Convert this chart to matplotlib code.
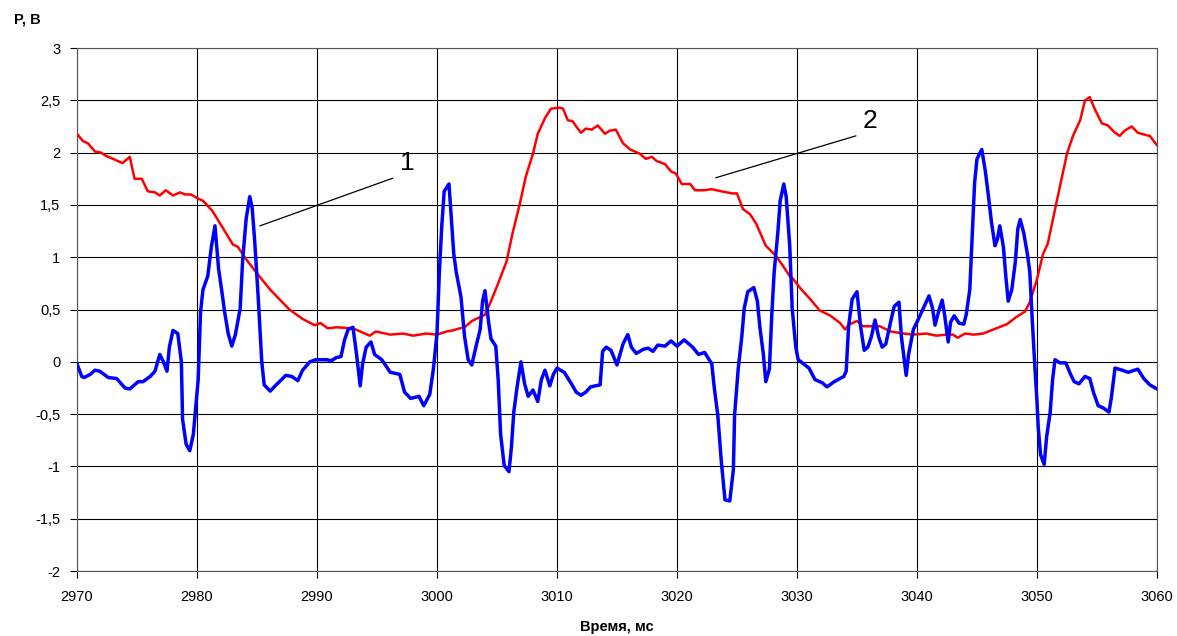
import matplotlib
matplotlib.use('Agg')
import matplotlib.pyplot as plt
from matplotlib.ticker import FuncFormatter, MultipleLocator

plt.rcParams['font.family'] = ['Liberation Sans', 'DejaVu Sans']

# кривая 2 (красная)
red_t = [2970, 2970.5, 2970.9, 2971.5, 2972.0, 2972.4, 2973.8, 2974.4, 2974.8, 2975.4,
         2975.9, 2976.5, 2976.9, 2977.4, 2978.0, 2978.6, 2979.0, 2979.5, 2980.1, 2980.5,
         2981.3, 2982.2, 2983.0, 2983.4, 2984.1, 2984.9, 2986.1, 2987.7, 2988.8, 2989.8,
         2990.3, 2990.9, 2991.6, 2993.0, 2993.8, 2994.4, 2994.9, 2996.1, 2997.2, 2998.0,
         2999.1, 3000.0, 3000.8, 3001.3, 3001.9, 3002.3, 3002.9, 3004.0, 3004.5, 3005.1,
         3005.8, 3006.3, 3006.9, 3007.4, 3008.0, 3008.4, 3009.0, 3009.5, 3010.2, 3010.5,
         3010.9, 3011.3, 3011.6, 3012.0, 3012.4, 3012.9, 3013.4, 3014.0, 3014.4, 3014.9,
         3015.5, 3016.1, 3016.9, 3017.4, 3017.9, 3018.3, 3019.0, 3019.5, 3019.9, 3020.4,
         3020.8, 3021.1, 3021.5, 3022.2, 3022.9, 3023.7, 3024.6, 3025.0, 3025.5, 3026.1,
         3026.6, 3027.4, 3028.1, 3028.7, 3029.4, 3029.7, 3030.3, 3031.1, 3031.9, 3032.8,
         3033.6, 3034.0, 3034.4, 3035.0, 3035.5, 3036.4, 3036.9, 3037.8, 3038.9, 3039.7,
         3040.8, 3041.6, 3042.5, 3043.0, 3043.4, 3044.0, 3044.7, 3045.5, 3046.6, 3047.5,
         3048.3, 3049.0, 3049.4, 3050.0, 3050.5, 3050.9, 3051.6, 3052.5, 3053.0, 3053.6,
         3054.0, 3054.4, 3054.8, 3055.4, 3055.9, 3056.5, 3056.9, 3057.3, 3057.9, 3058.4,
         3059.0, 3059.4, 3060.0]
red_p = [2.18, 2.11, 2.09, 2.01, 2.00, 1.97, 1.90, 1.96, 1.75, 1.75,
         1.63, 1.62, 1.59, 1.64, 1.59, 1.62, 1.60, 1.60, 1.56, 1.54,
         1.44, 1.27, 1.12, 1.10, 0.98, 0.86, 0.69, 0.50, 0.41, 0.35,
         0.37, 0.32, 0.33, 0.32, 0.28, 0.25, 0.29, 0.26, 0.27, 0.25,
         0.27, 0.26, 0.29, 0.30, 0.32, 0.33, 0.39, 0.45, 0.58, 0.75,
         0.96, 1.23, 1.51, 1.77, 1.99, 2.18, 2.33, 2.42, 2.43, 2.42,
         2.31, 2.30, 2.25, 2.19, 2.23, 2.22, 2.26, 2.18, 2.21, 2.22,
         2.09, 2.03, 1.99, 1.94, 1.96, 1.92, 1.89, 1.82, 1.80, 1.70,
         1.70, 1.70, 1.64, 1.64, 1.65, 1.63, 1.61, 1.61, 1.46, 1.41,
         1.32, 1.11, 1.03, 0.94, 0.82, 0.79, 0.70, 0.60, 0.49, 0.44,
         0.37, 0.31, 0.36, 0.39, 0.34, 0.34, 0.34, 0.29, 0.27, 0.26,
         0.27, 0.25, 0.26, 0.26, 0.23, 0.27, 0.26, 0.27, 0.32, 0.36,
         0.43, 0.48, 0.57, 0.79, 1.03, 1.13, 1.51, 1.99, 2.16, 2.31,
         2.50, 2.53, 2.42, 2.28, 2.26, 2.19, 2.16, 2.21, 2.25, 2.19,
         2.17, 2.16, 2.07]

# кривая 1 (синяя)
blue_t = [2970.0, 2970.4, 2970.6, 2971.1, 2971.5, 2971.9, 2972.6, 2973.3, 2974.0, 2974.4,
          2975.1, 2975.5, 2976.1, 2976.5, 2976.9, 2977.2, 2977.5, 2977.7, 2978.0, 2978.4,
          2978.7, 2978.8, 2979.1, 2979.4, 2979.7, 2980.1, 2980.3, 2980.5, 2980.9, 2981.2,
          2981.5, 2981.8, 2982.1, 2982.3, 2982.6, 2982.9, 2983.2, 2983.6, 2983.8, 2984.1,
          2984.4, 2984.6, 2984.8, 2985.1, 2985.4, 2985.6, 2986.1, 2986.6, 2987.4, 2987.9,
          2988.4, 2988.8, 2989.4, 2989.9, 2990.8, 2991.2, 2991.6, 2992.0, 2992.3, 2992.6,
          2993.0, 2993.3, 2993.6, 2993.8, 2994.1, 2994.5, 2994.8, 2995.4, 2996.1, 2996.9,
          2997.3, 2997.8, 2998.5, 2998.9, 2999.4, 2999.7, 3000.0, 3000.2, 3000.4, 3000.6,
          3001.0, 3001.2, 3001.4, 3001.6, 3002.0, 3002.3, 3002.6, 3002.9, 3003.3, 3003.6,
          3003.8, 3004.0, 3004.3, 3004.5, 3004.9, 3005.1, 3005.3, 3005.6, 3006.0, 3006.2,
          3006.4, 3006.7, 3007.0, 3007.3, 3007.6, 3008.0, 3008.4, 3008.7, 3009.0, 3009.4,
          3009.7, 3010.0, 3010.6, 3011.2, 3011.6, 3012.0, 3012.4, 3012.8, 3013.6, 3013.8,
          3014.1, 3014.5, 3015.0, 3015.5, 3015.9, 3016.2, 3016.6, 3017.2, 3017.6, 3018.0,
          3018.4, 3019.0, 3019.5, 3020.0, 3020.6, 3021.3, 3021.8, 3022.3, 3022.9, 3023.1,
          3023.4, 3023.7, 3024.0, 3024.4, 3024.7, 3024.8, 3025.1, 3025.4, 3025.6, 3025.9,
          3026.4, 3026.7, 3026.9, 3027.2, 3027.4, 3027.7, 3027.9, 3028.1, 3028.4, 3028.6,
          3028.9, 3029.1, 3029.4, 3029.6, 3029.9, 3030.1, 3031.0, 3031.5, 3032.1, 3032.5,
          3033.1, 3033.9, 3034.1, 3034.3, 3034.6, 3035.0, 3035.3, 3035.6, 3035.9, 3036.2,
          3036.5, 3036.8, 3037.1, 3037.4, 3037.8, 3038.1, 3038.5, 3038.7, 3039.1, 3039.3,
          3039.7, 3040.0, 3040.6, 3041.0, 3041.3, 3041.5, 3041.8, 3042.1, 3042.3, 3042.6,
          3042.8, 3043.1, 3043.5, 3043.9, 3044.1, 3044.4, 3044.6, 3044.8, 3045.0, 3045.4,
          3045.7, 3046.0, 3046.2, 3046.5, 3046.7, 3046.9, 3047.2, 3047.4, 3047.6, 3047.9,
          3048.2, 3048.4, 3048.6, 3048.9, 3049.2, 3049.4, 3049.6, 3049.8, 3050.0, 3050.1,
          3050.3, 3050.6, 3050.8, 3051.1, 3051.3, 3051.5, 3051.9, 3052.4, 3052.8, 3053.1,
          3053.5, 3054.0, 3054.4, 3054.7, 3055.1, 3055.5, 3056.0, 3056.2, 3056.5, 3057.1,
          3057.6, 3058.4, 3058.9, 3059.4, 3060.0]
blue_p = [-0.02, -0.14, -0.15, -0.12, -0.08, -0.09, -0.15, -0.16, -0.25, -0.26,
          -0.19, -0.19, -0.14, -0.09, 0.07, 0.00, -0.09, 0.14, 0.30, 0.27,
          0.00, -0.55, -0.79, -0.85, -0.69, -0.17, 0.48, 0.69, 0.82, 1.10,
          1.30, 0.89, 0.65, 0.48, 0.27, 0.15, 0.26, 0.51, 0.96, 1.37,
          1.58, 1.47, 1.17, 0.62, 0.00, -0.22, -0.28, -0.22, -0.13, -0.14,
          -0.18, -0.08, 0.00, 0.02, 0.02, 0.01, 0.04, 0.05, 0.21, 0.31,
          0.33, 0.07, -0.23, -0.02, 0.14, 0.19, 0.07, 0.02, -0.10, -0.12,
          -0.29, -0.35, -0.33, -0.42, -0.31, -0.07, 0.27, 0.86, 1.30, 1.63,
          1.70, 1.37, 1.03, 0.86, 0.62, 0.24, 0.02, -0.03, 0.17, 0.31,
          0.58, 0.68, 0.38, 0.22, 0.15, -0.17, -0.69, -0.99, -1.05, -0.82,
          -0.48, -0.22, 0.00, -0.21, -0.33, -0.27, -0.38, -0.17, -0.08, -0.23,
          -0.12, -0.06, -0.10, -0.21, -0.29, -0.32, -0.29, -0.24, -0.22, 0.10,
          0.14, 0.11, -0.03, 0.17, 0.26, 0.14, 0.08, 0.12, 0.13, 0.10,
          0.16, 0.15, 0.20, 0.15, 0.21, 0.14, 0.07, 0.09, -0.02, -0.24,
          -0.51, -0.96, -1.32, -1.33, -1.03, -0.51, -0.07, 0.24, 0.51, 0.67,
          0.71, 0.58, 0.34, 0.07, -0.19, -0.07, 0.45, 0.86, 1.23, 1.54,
          1.70, 1.58, 1.10, 0.51, 0.14, 0.02, -0.06, -0.17, -0.20, -0.24,
          -0.19, -0.14, -0.09, 0.34, 0.60, 0.67, 0.34, 0.11, 0.14, 0.24,
          0.40, 0.24, 0.14, 0.17, 0.38, 0.53, 0.57, 0.24, -0.13, 0.07,
          0.31, 0.38, 0.53, 0.63, 0.51, 0.35, 0.48, 0.59, 0.45, 0.19,
          0.38, 0.44, 0.37, 0.36, 0.45, 0.69, 1.20, 1.71, 1.94, 2.03,
          1.82, 1.54, 1.34, 1.11, 1.17, 1.30, 1.10, 0.82, 0.58, 0.69,
          0.96, 1.27, 1.36, 1.23, 1.03, 0.86, 0.41, 0.00, -0.38, -0.62,
          -0.89, -0.98, -0.72, -0.48, -0.17, 0.02, -0.01, -0.01, -0.12, -0.19,
          -0.21, -0.14, -0.16, -0.29, -0.42, -0.44, -0.48, -0.34, -0.06, -0.08,
          -0.10, -0.07, -0.16, -0.22, -0.26]

fig = plt.figure(figsize=(11.77, 6.36), dpi=100)
ax = fig.add_axes([0.0654, 0.1022, 0.9176, 0.8223])

ax.plot(red_t, red_p, color='#ff0000', lw=1.8, zorder=3,
        solid_joinstyle='round', solid_capstyle='round')
ax.plot(blue_t, blue_p, color='#0000ff', lw=2.5, zorder=4,
        solid_joinstyle='round', solid_capstyle='round')

ax.set_xlim(2970, 3060)
ax.set_ylim(-2, 3)
ax.xaxis.set_major_locator(MultipleLocator(10))
ax.yaxis.set_major_locator(MultipleLocator(0.5))
ax.yaxis.set_major_formatter(FuncFormatter(lambda v, p: ('%g' % v).replace('.', ',')))
ax.grid(True, color='black', lw=0.8)
ax.tick_params(direction='out', length=5, width=0.8, labelsize=10.5, color='black')
ax.tick_params(axis='x', pad=9)
ax.tick_params(axis='y', pad=7)
for s in ax.spines.values():
    s.set_color('#555555')
    s.set_linewidth(0.8)

# выноски
ax.plot([2985.25, 2996.3], [1.30, 1.755], color='black', lw=0.9, zorder=5)
ax.text(2997.5, 1.90, '1', fontsize=19, ha='center', va='center')
ax.plot([3023.25, 3034.9], [1.76, 2.16], color='black', lw=0.9, zorder=5)
ax.text(3036.1, 2.30, '2', fontsize=19, ha='center', va='center')

fig.text(27 / 1177, 1 - 20 / 636, 'P, B', fontsize=10.5, fontweight='bold', ha='center', va='center')
fig.text(617 / 1177, 1 - 627 / 636, 'Время, мс', fontsize=10.5, fontweight='bold', ha='center', va='center')

fig.savefig('out.png', dpi=100)
